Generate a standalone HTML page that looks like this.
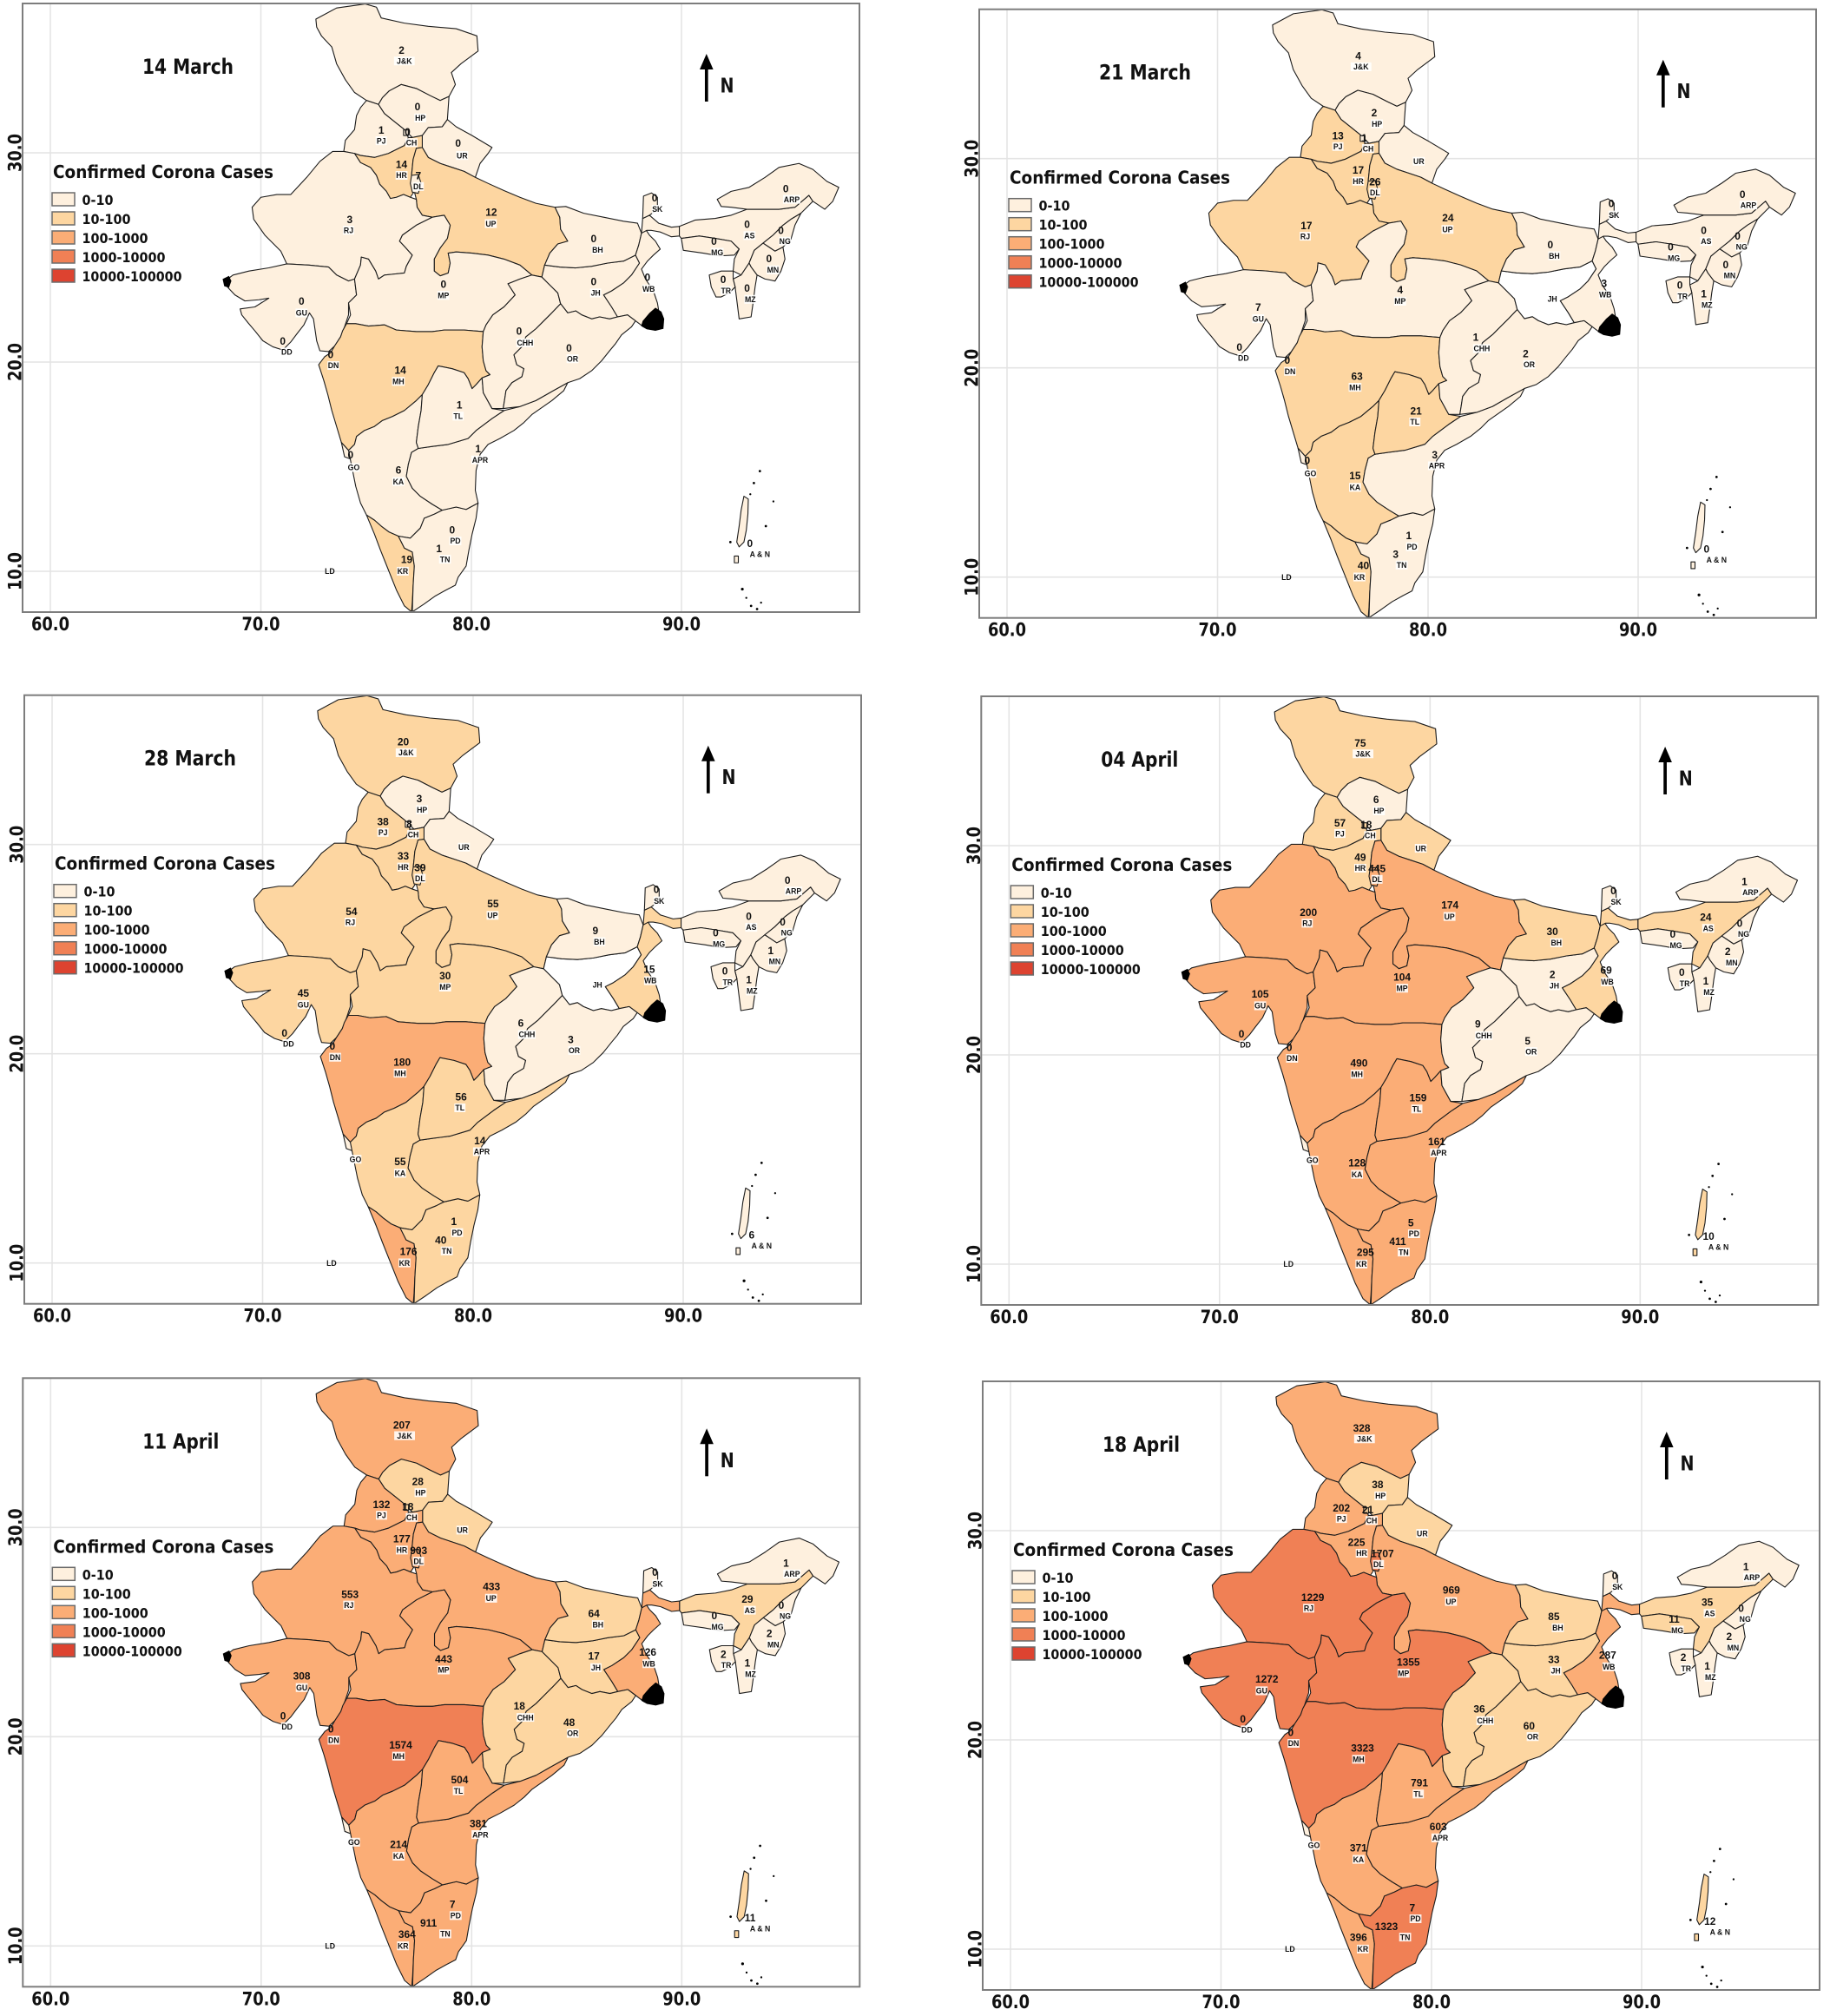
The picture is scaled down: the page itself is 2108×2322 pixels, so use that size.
<!DOCTYPE html>
<html><head><meta charset="utf-8"><style>
html,body{margin:0;padding:0;background:#fff}
svg{display:block}
.s{stroke:#1c1c1c;stroke-width:1.1;vector-effect:non-scaling-stroke;stroke-linejoin:round}
.c0{fill:#fef0de}.c1{fill:#fdd6a1}.c2{fill:#fbad76}.c3{fill:#f08055}.c4{fill:#dd4330}.cw{fill:#ffffff}
.ti,.lt,.ll,.nn,.ax{font-family:"DejaVu Sans","Liberation Sans",sans-serif;font-weight:bold;fill:#111}
.ti{font-size:24px}.lt{font-size:20px}.ll{font-size:16px}.nn{font-size:23px}.ax{font-size:21px;text-anchor:middle}
.m text{font-family:"Liberation Sans",sans-serif;font-weight:bold;text-anchor:middle;fill:#111}
.n text{font-size:26px}.a text{font-size:19px}
</style></head><body>
<svg width="2108" height="2322" viewBox="0 0 2108 2322" xmlns="http://www.w3.org/2000/svg">
<rect width="2108" height="2322" fill="#fff"/>
<defs>
<path id="grid" d="M58,5V704M300.5,5V704M543,5V704M785,5V704M27,176H989M27,417H989M27,658H989" stroke="#e4e4e4" stroke-width="1.6" fill="none"/>
<g id="deco">
<rect x="26" y="4" width="964" height="701" fill="none" stroke="#7d7d7d" stroke-width="2"/>
<rect x="60" y="222" width="26" height="15" class="c0" stroke="#6b6b6b" stroke-width="1.5"/>
<rect x="60" y="244" width="26" height="15" class="c1" stroke="#6b6b6b" stroke-width="1.5"/>
<rect x="60" y="266" width="26" height="15" class="c2" stroke="#6b6b6b" stroke-width="1.5"/>
<rect x="60" y="288" width="26" height="15" class="c3" stroke="#6b6b6b" stroke-width="1.5"/>
<rect x="60" y="310" width="26" height="15" class="c4" stroke="#6b6b6b" stroke-width="1.5"/>
<path d="M813.8,76V117" stroke="#000" stroke-width="3.7"/>
<path d="M806,80L813.8,62L821.6,80Z" fill="#000"/>
</g>
<path id="JK" class="s" d="M248,48L300,20L372,10L400,18L412,45L470,58L530,66L600,72L652,90L655,128L612,160L588,182L598,212L582,242L560,252L535,240L500,222L462,212L432,228L415,245L405,262L375,252L345,232L322,200L300,160L288,118L262,90L250,68Z"/>
<path id="HP" class="s" d="M405,262L415,245L432,228L462,212L500,222L535,240L560,252L582,242L578,300L565,318L530,320L515,340L490,345L470,325L445,305L420,285Z"/>
<path id="PJ" class="s" d="M375,252L405,262L420,285L445,305L470,325L480,345L470,365L430,385L395,395L360,390L345,385L318,380L322,352L345,325L350,290L360,270Z"/>
<path id="CH" class="s" d="M468,326L480,326L480,340L468,340Z"/>
<path id="UR" class="s" d="M515,340L530,320L565,318L578,300L600,318L640,340L690,370L680,385L660,410L648,445L620,430L590,420L560,410L530,395L515,370Z"/>
<path id="HR" class="s" d="M345,385L360,390L395,395L430,385L470,365L480,345L490,345L515,340L515,370L500,372L492,400L488,440L495,480L485,495L468,488L450,495L435,498L425,480L408,462L400,440L385,420L360,408Z"/>
<path id="UP" class="s" d="M515,370L530,395L560,410L590,420L620,430L648,445L680,460L720,478L760,495L800,510L848,520L860,545L862,575L880,605L855,612L835,635L822,665L815,695L790,690L760,665L720,650L680,640L640,635L600,632L580,635L585,660L580,685L560,692L545,680L545,650L560,622L578,598L585,565L570,540L540,545L515,540L502,520L500,500L495,480L488,440L492,400L500,372Z"/>
<path id="RJ" class="s" d="M290,380L318,380L345,385L360,408L385,420L400,440L408,462L425,480L435,498L450,495L468,488L485,495L500,500L502,520L515,540L540,545L500,565L465,590L458,605L472,620L490,640L475,668L470,685L440,688L420,690L405,700L398,680L380,650L362,645L360,665L345,700L330,705L300,690L280,670L230,665L175,662L160,630L120,590L92,550L88,520L110,495L150,488L185,488L225,445L258,405Z"/>
<path id="GU" class="s" d="M20,705L40,690L80,680L130,672L175,662L230,665L280,670L300,690L330,705L345,700L350,740L330,760L330,790L320,820L310,845L295,868L280,882L258,880L250,855L242,800L232,785L218,815L200,838L185,858L165,878L140,870L115,855L95,830L78,810L62,790L58,775L95,770L130,748L105,752L70,755L45,740L28,722Z"/>
<path id="MP" class="s" d="M345,700L360,665L362,645L380,650L398,680L405,700L420,690L440,688L470,685L475,668L490,640L472,620L458,605L465,590L500,565L540,545L570,540L585,565L578,598L560,622L545,650L545,680L560,692L580,685L585,660L580,635L600,632L640,635L680,640L720,650L760,665L790,690L760,700L730,712L748,740L720,770L692,790L675,815L668,832L620,828L570,828L540,832L500,832L450,828L420,815L380,818L348,812L325,812L335,790L330,760L350,740Z"/>
<path id="MH" class="s" d="M325,812L348,812L380,818L420,815L450,828L500,832L540,832L570,828L620,828L668,832L665,870L668,905L675,930L685,940L665,948L650,965L640,975L630,950L620,935L590,925L555,918L545,935L530,965L515,990L500,1005L470,1030L440,1045L415,1055L395,1070L370,1080L350,1095L345,1115L330,1130L312,1110L300,1070L288,1030L278,990L268,955L255,915L270,895L285,885L295,868L310,845L315,830Z"/>
<path id="GO" class="s" d="M312,1110L330,1130L342,1142L336,1152L320,1146Z"/>
<path id="KA" class="s" d="M330,1130L345,1115L350,1095L370,1080L395,1070L415,1055L440,1045L470,1030L500,1005L515,990L512,1030L505,1070L500,1110L505,1125L488,1135L480,1165L475,1195L490,1225L510,1245L540,1265L565,1280L545,1290L520,1300L510,1325L485,1350L455,1345L432,1335L412,1320L395,1305L375,1292L360,1262L348,1220L340,1180Z"/>
<path id="KR" class="s" d="M375,1292L395,1305L412,1320L432,1335L455,1345L470,1375L490,1385L495,1420L492,1470L490,1510L488,1535L470,1520L450,1480L430,1430L410,1380L395,1340Z"/>
<path id="TN" class="s" d="M455,1345L485,1350L510,1325L520,1300L545,1290L565,1280L600,1272L625,1278L655,1262L650,1300L640,1340L632,1380L625,1420L605,1448L598,1468L575,1480L548,1495L520,1515L490,1535L492,1470L495,1420L490,1385L470,1375Z"/>
<path id="APR" class="s" d="M505,1125L540,1120L580,1115L630,1100L650,1080L690,1050L720,1030L760,1020L800,1005L835,985L880,960L870,980L840,1005L790,1040L770,1060L745,1080L710,1100L680,1115L660,1140L650,1180L648,1230L655,1262L625,1278L600,1272L565,1280L540,1265L510,1245L490,1225L475,1195L480,1165L488,1135Z"/>
<path id="TL" class="s" d="M555,918L590,925L620,935L630,950L640,975L650,965L665,948L668,985L690,1025L720,1030L690,1050L650,1080L630,1100L580,1115L540,1120L505,1125L500,1110L505,1070L512,1030L515,990L530,965L545,935Z"/>
<path id="CHH" class="s" d="M668,832L675,815L692,790L720,770L748,740L730,712L760,700L790,690L815,695L830,710L855,735L862,762L840,785L820,805L800,825L775,845L765,870L745,890L752,915L770,925L765,945L740,960L725,980L722,1000L718,1025L690,1025L668,985L665,948L685,940L675,930L668,905L665,870Z"/>
<path id="JH" class="s" d="M815,695L822,665L860,670L900,672L940,668L980,660L1020,655L1050,640L1060,660L1040,690L1020,710L990,730L970,740L990,770L1005,795L985,800L960,795L940,800L915,790L900,780L880,785L862,762L855,735L830,710Z"/>
<path id="BH" class="s" d="M848,520L875,518L920,535L970,545L1020,555L1055,560L1065,585L1058,615L1050,640L1020,655L980,660L940,668L900,672L860,670L822,665L835,635L855,612L880,605L862,575L860,545Z"/>
<path id="WB" class="s" d="M1050,640L1058,615L1065,585L1075,575L1085,590L1100,605L1112,625L1095,640L1080,655L1065,675L1075,700L1095,730L1105,760L1110,790L1115,815L1095,825L1070,820L1050,805L1030,790L1005,795L990,770L970,740L990,730L1020,710L1040,690L1060,660Z"/>
<path id="WBN" class="s" d="M1065,585L1068,548L1085,540L1108,560L1140,570L1160,568L1160,592L1140,594L1112,582L1090,578L1078,578Z"/>
<path id="SK" class="s" d="M1068,548L1070,492L1090,484L1105,495L1105,525L1085,540Z"/>
<path id="OR" class="s" d="M862,762L880,785L900,780L915,790L940,800L960,795L985,800L1005,795L1030,790L1050,805L1040,820L1015,840L1000,862L985,880L965,905L940,930L910,950L880,960L835,985L800,1005L760,1020L718,1025L722,1000L725,980L740,960L765,945L770,925L752,915L745,890L765,870L775,845L800,825L820,805L840,785Z"/>
<path id="AS" class="s" d="M1160,568L1200,552L1250,548L1290,540L1330,525L1370,525L1410,525L1450,520L1485,490L1495,505L1465,535L1440,550L1420,565L1395,590L1370,610L1348,628L1335,660L1315,690L1295,680L1298,650L1310,625L1290,605L1250,598L1210,592L1165,598L1160,592Z"/>
<path id="MG" class="s" d="M1165,598L1210,592L1250,598L1290,605L1310,625L1298,640L1260,642L1220,635L1170,628Z"/>
<path id="ARP" class="s" d="M1255,500L1290,480L1335,470L1375,445L1410,420L1460,410L1495,425L1530,455L1560,470L1545,505L1525,525L1510,515L1495,505L1485,490L1450,520L1410,525L1370,525L1330,525L1290,520L1265,518Z"/>
<path id="NG" class="s" d="M1440,550L1465,535L1450,565L1440,600L1420,620L1400,630L1385,620L1370,610L1395,590L1420,565Z"/>
<path id="MN" class="s" d="M1348,628L1370,610L1385,620L1400,630L1420,620L1425,650L1415,680L1400,705L1375,700L1355,690L1340,670L1335,660Z"/>
<path id="MZ" class="s" d="M1315,690L1335,660L1340,670L1355,690L1350,720L1345,760L1340,795L1310,800L1305,760L1300,720L1295,700Z"/>
<path id="TR" class="s" d="M1235,690L1265,680L1295,680L1295,700L1300,720L1285,735L1265,745L1252,745L1240,720Z"/>
<path id="AN" class="s" d="M1322,1245L1333,1252L1332,1290L1328,1330L1322,1360L1310,1372L1304,1360L1310,1320L1315,1280ZM1298,1395L1308,1395L1308,1412L1298,1412Z"/>
<path id="DL" class="s" d="M488,440L505,438L512,460L505,485L490,482L485,460Z"/>
<g id="blk" fill="#000">
<path d="M14,700L30,692L36,705L30,722L18,718Z"/>
<path d="M1068,805L1085,785L1100,772L1115,782L1122,800L1120,825L1100,830L1078,826L1064,818Z"/>
<circle cx="1362" cy="1182" r="3"/><circle cx="1347" cy="1212" r="3"/><circle cx="1396" cy="1258" r="2.5"/><circle cx="1377" cy="1320" r="3"/><circle cx="1288" cy="1360" r="3"/><circle cx="1318" cy="1478" r="3.5"/><circle cx="1328" cy="1500" r="2.5"/><circle cx="1340" cy="1520" r="3"/><circle cx="1355" cy="1528" r="3"/><circle cx="1365" cy="1512" r="2.5"/><circle cx="1338" cy="1240" r="2.5"/>
</g>
<path id="boxes" fill="#fff" fill-opacity="0.88" d="M444,142h52v22h-52zM495,285h30v22h-30zM398,342h28v22h-28zM473,347h30v22h-30zM600,379h30v22h-30zM448,429h30v22h-30zM491,457h28v22h-28zM316,567h28v22h-28zM672,550h30v22h-30zM1091,514h28v22h-28zM1420,489h44v22h-44zM1321,580h30v22h-30zM1410,594h30v22h-30zM1239,622h32v22h-32zM1379,666h32v22h-32zM940,616h30v22h-30zM553,730h30v22h-30zM936,724h28v22h-28zM1067,714h32v22h-32zM1263,718h28v22h-28zM1323,740h30v22h-30zM197,774h30v22h-30zM160,872h30v22h-30zM277,906h30v22h-30zM751,849h44v22h-44zM877,889h30v22h-30zM439,946h32v22h-32zM591,1033h28v22h-28zM638,1143h44v22h-44zM328,1162h30v22h-30zM440,1197h30v22h-30zM583,1346h30v22h-30zM557,1392h30v22h-30zM451,1422h30v22h-30zM1332,1379h60v22h-60z"/>
</defs>

<!-- PANEL 1 -->
<g transform="translate(0,0)">
<use href="#grid"/>
<g class="m" transform="translate(250,0) scale(0.4591)">
<use href="#JK" class="c0"/><use href="#HP" class="c0"/><use href="#PJ" class="c0"/><use href="#UR" class="c0"/><use href="#HR" class="c1"/><use href="#UP" class="c1"/><use href="#RJ" class="c0"/><use href="#GU" class="c0"/><use href="#MP" class="c0"/><use href="#MH" class="c1"/><use href="#GO" class="c0"/><use href="#KA" class="c0"/><use href="#KR" class="c1"/><use href="#TN" class="c0"/><use href="#APR" class="c0"/><use href="#TL" class="c0"/><use href="#CHH" class="c0"/><use href="#JH" class="c0"/><use href="#BH" class="c0"/><use href="#WB" class="c0"/><use href="#WBN" class="c0"/><use href="#SK" class="c0"/><use href="#OR" class="c0"/><use href="#AS" class="c0"/><use href="#MG" class="c0"/><use href="#ARP" class="c0"/><use href="#NG" class="c0"/><use href="#MN" class="c0"/><use href="#MZ" class="c0"/><use href="#TR" class="c0"/><use href="#AN" class="c0"/><use href="#DL" class="c0"/><use href="#CH" class="c0"/>
<use href="#blk"/><use href="#boxes"/>
<g class="a"><text x="470" y="160">J&amp;K</text><text x="510" y="303">HP</text><text x="412" y="360">PJ</text><text x="488" y="365">CH</text><text x="615" y="397">UR</text><text x="463" y="447">HR</text><text x="505" y="475">DL</text><text x="330" y="585">RJ</text><text x="687" y="568">UP</text><text x="1105" y="532">SK</text><text x="1442" y="507">ARP</text><text x="1336" y="598">AS</text><text x="1425" y="612">NG</text><text x="1255" y="640">MG</text><text x="1395" y="684">MN</text><text x="955" y="634">BH</text><text x="568" y="748">MP</text><text x="950" y="742">JH</text><text x="1083" y="732">WB</text><text x="1277" y="736">TR</text><text x="1338" y="758">MZ</text><text x="212" y="792">GU</text><text x="175" y="890">DD</text><text x="292" y="924">DN</text><text x="773" y="867">CHH</text><text x="892" y="907">OR</text><text x="455" y="964">MH</text><text x="605" y="1051">TL</text><text x="660" y="1161">APR</text><text x="343" y="1180">GO</text><text x="455" y="1215">KA</text><text x="598" y="1364">PD</text><text x="572" y="1410">TN</text><text x="466" y="1440">KR</text><text x="283" y="1440">LD</text><text x="1362" y="1397">A &amp; N</text></g>
<g class="n"><text x="463" y="135">2</text><text x="503" y="277">0</text><text x="412" y="335">1</text><text x="478" y="340">0</text><text x="605" y="368">0</text><text x="463" y="421">14</text><text x="505" y="450">7</text><text x="333" y="560">3</text><text x="688" y="541">12</text><text x="1098" y="505">0</text><text x="1427" y="482">0</text><text x="1330" y="572">0</text><text x="1415" y="587">0</text><text x="1247" y="614">0</text><text x="1385" y="658">0</text><text x="945" y="608">0</text><text x="568" y="722">0</text><text x="945" y="715">0</text><text x="1080" y="705">0</text><text x="1270" y="710">0</text><text x="1330" y="732">0</text><text x="212" y="765">0</text><text x="165" y="865">0</text><text x="285" y="898">0</text><text x="758" y="840">0</text><text x="883" y="882">0</text><text x="460" y="938">14</text><text x="608" y="1025">1</text><text x="655" y="1135">1</text><text x="335" y="1150">0</text><text x="455" y="1188">6</text><text x="590" y="1338">0</text><text x="557" y="1385">1</text><text x="476" y="1413">19</text><text x="1337" y="1372">0</text></g>
</g>
<use href="#deco"/>
<text class="ti" x="164" y="85" textLength="105" lengthAdjust="spacingAndGlyphs">14 March</text>
<text class="lt" x="61" y="205" textLength="254" lengthAdjust="spacingAndGlyphs">Confirmed Corona Cases</text>
<text class="ll" x="94.5" y="236" textLength="36" lengthAdjust="spacingAndGlyphs">0-10</text>
<text class="ll" x="94.5" y="258" textLength="56" lengthAdjust="spacingAndGlyphs">10-100</text>
<text class="ll" x="94.5" y="280" textLength="76" lengthAdjust="spacingAndGlyphs">100-1000</text>
<text class="ll" x="94.5" y="302" textLength="96" lengthAdjust="spacingAndGlyphs">1000-10000</text>
<text class="ll" x="94.5" y="324" textLength="115" lengthAdjust="spacingAndGlyphs">10000-100000</text>
<text class="nn" x="829.5" y="106.5" textLength="16" lengthAdjust="spacingAndGlyphs">N</text>
<text class="ax" x="58" y="726" textLength="44" lengthAdjust="spacingAndGlyphs">60.0</text>
<text class="ax" x="300.5" y="726" textLength="44" lengthAdjust="spacingAndGlyphs">70.0</text>
<text class="ax" x="543" y="726" textLength="44" lengthAdjust="spacingAndGlyphs">80.0</text>
<text class="ax" x="785" y="726" textLength="44" lengthAdjust="spacingAndGlyphs">90.0</text>
<text class="ax" transform="translate(24.5,176) rotate(-90)" textLength="44" lengthAdjust="spacingAndGlyphs">30.0</text>
<text class="ax" transform="translate(24.5,417) rotate(-90)" textLength="44" lengthAdjust="spacingAndGlyphs">20.0</text>
<text class="ax" transform="translate(24.5,658) rotate(-90)" textLength="44" lengthAdjust="spacingAndGlyphs">10.0</text>
</g>

<!-- PANEL 2 -->
<g transform="translate(1102,6.7)">
<use href="#grid"/>
<g class="m" transform="translate(250,0) scale(0.4591)">
<use href="#JK" class="c0"/><use href="#HP" class="c0"/><use href="#PJ" class="c1"/><use href="#UR" class="c0"/><use href="#HR" class="c1"/><use href="#UP" class="c1"/><use href="#RJ" class="c1"/><use href="#GU" class="c0"/><use href="#MP" class="c0"/><use href="#MH" class="c1"/><use href="#GO" class="c0"/><use href="#KA" class="c1"/><use href="#KR" class="c1"/><use href="#TN" class="c0"/><use href="#APR" class="c0"/><use href="#TL" class="c1"/><use href="#CHH" class="c0"/><use href="#JH" class="cw"/><use href="#BH" class="c0"/><use href="#WB" class="c0"/><use href="#WBN" class="c0"/><use href="#SK" class="c0"/><use href="#OR" class="c0"/><use href="#AS" class="c0"/><use href="#MG" class="c0"/><use href="#ARP" class="c0"/><use href="#NG" class="c0"/><use href="#MN" class="c0"/><use href="#MZ" class="c0"/><use href="#TR" class="c0"/><use href="#AN" class="c0"/><use href="#DL" class="c1"/><use href="#CH" class="c0"/>
<use href="#blk"/><use href="#boxes"/>
<g class="a"><text x="470" y="160">J&amp;K</text><text x="510" y="303">HP</text><text x="412" y="360">PJ</text><text x="488" y="365">CH</text><text x="615" y="397">UR</text><text x="463" y="447">HR</text><text x="505" y="475">DL</text><text x="330" y="585">RJ</text><text x="687" y="568">UP</text><text x="1105" y="532">SK</text><text x="1442" y="507">ARP</text><text x="1336" y="598">AS</text><text x="1425" y="612">NG</text><text x="1255" y="640">MG</text><text x="1395" y="684">MN</text><text x="955" y="634">BH</text><text x="568" y="748">MP</text><text x="950" y="742">JH</text><text x="1083" y="732">WB</text><text x="1277" y="736">TR</text><text x="1338" y="758">MZ</text><text x="212" y="792">GU</text><text x="175" y="890">DD</text><text x="292" y="924">DN</text><text x="773" y="867">CHH</text><text x="892" y="907">OR</text><text x="455" y="964">MH</text><text x="605" y="1051">TL</text><text x="660" y="1161">APR</text><text x="343" y="1180">GO</text><text x="455" y="1215">KA</text><text x="598" y="1364">PD</text><text x="572" y="1410">TN</text><text x="466" y="1440">KR</text><text x="283" y="1440">LD</text><text x="1362" y="1397">A &amp; N</text></g>
<g class="n"><text x="463" y="135">4</text><text x="503" y="277">2</text><text x="412" y="335">13</text><text x="478" y="340">1</text><text x="463" y="421">17</text><text x="505" y="450">26</text><text x="333" y="560">17</text><text x="688" y="541">24</text><text x="1098" y="505">0</text><text x="1427" y="482">0</text><text x="1330" y="572">0</text><text x="1415" y="587">0</text><text x="1247" y="614">0</text><text x="1385" y="658">0</text><text x="945" y="608">0</text><text x="568" y="722">4</text><text x="1080" y="705">3</text><text x="1270" y="710">0</text><text x="1330" y="732">1</text><text x="212" y="765">7</text><text x="165" y="865">0</text><text x="285" y="898">0</text><text x="758" y="840">1</text><text x="883" y="882">2</text><text x="460" y="938">63</text><text x="608" y="1025">21</text><text x="655" y="1135">3</text><text x="335" y="1150">0</text><text x="455" y="1188">15</text><text x="590" y="1338">1</text><text x="557" y="1385">3</text><text x="476" y="1413">40</text><text x="1337" y="1372">0</text></g>
</g>
<use href="#deco"/>
<text class="ti" x="164" y="85" textLength="106" lengthAdjust="spacingAndGlyphs">21 March</text>
<text class="lt" x="61" y="205" textLength="254" lengthAdjust="spacingAndGlyphs">Confirmed Corona Cases</text>
<text class="ll" x="94.5" y="236" textLength="36" lengthAdjust="spacingAndGlyphs">0-10</text>
<text class="ll" x="94.5" y="258" textLength="56" lengthAdjust="spacingAndGlyphs">10-100</text>
<text class="ll" x="94.5" y="280" textLength="76" lengthAdjust="spacingAndGlyphs">100-1000</text>
<text class="ll" x="94.5" y="302" textLength="96" lengthAdjust="spacingAndGlyphs">1000-10000</text>
<text class="ll" x="94.5" y="324" textLength="115" lengthAdjust="spacingAndGlyphs">10000-100000</text>
<text class="nn" x="829.5" y="106.5" textLength="16" lengthAdjust="spacingAndGlyphs">N</text>
<text class="ax" x="58" y="726" textLength="44" lengthAdjust="spacingAndGlyphs">60.0</text>
<text class="ax" x="300.5" y="726" textLength="44" lengthAdjust="spacingAndGlyphs">70.0</text>
<text class="ax" x="543" y="726" textLength="44" lengthAdjust="spacingAndGlyphs">80.0</text>
<text class="ax" x="785" y="726" textLength="44" lengthAdjust="spacingAndGlyphs">90.0</text>
<text class="ax" transform="translate(24.5,176) rotate(-90)" textLength="44" lengthAdjust="spacingAndGlyphs">30.0</text>
<text class="ax" transform="translate(24.5,417) rotate(-90)" textLength="44" lengthAdjust="spacingAndGlyphs">20.0</text>
<text class="ax" transform="translate(24.5,658) rotate(-90)" textLength="44" lengthAdjust="spacingAndGlyphs">10.0</text>
</g>

<!-- PANEL 3 -->
<g transform="translate(2,796.7)">
<use href="#grid"/>
<g class="m" transform="translate(250,0) scale(0.4591)">
<use href="#JK" class="c1"/><use href="#HP" class="c0"/><use href="#PJ" class="c1"/><use href="#UR" class="c0"/><use href="#HR" class="c1"/><use href="#UP" class="c1"/><use href="#RJ" class="c1"/><use href="#GU" class="c1"/><use href="#MP" class="c1"/><use href="#MH" class="c2"/><use href="#GO" class="c0"/><use href="#KA" class="c1"/><use href="#KR" class="c2"/><use href="#TN" class="c1"/><use href="#APR" class="c1"/><use href="#TL" class="c1"/><use href="#CHH" class="c0"/><use href="#JH" class="cw"/><use href="#BH" class="c0"/><use href="#WB" class="c1"/><use href="#WBN" class="c1"/><use href="#SK" class="c0"/><use href="#OR" class="c0"/><use href="#AS" class="c0"/><use href="#MG" class="c0"/><use href="#ARP" class="c0"/><use href="#NG" class="c0"/><use href="#MN" class="c0"/><use href="#MZ" class="c0"/><use href="#TR" class="c0"/><use href="#AN" class="c0"/><use href="#DL" class="c1"/><use href="#CH" class="c0"/>
<use href="#blk"/><use href="#boxes"/>
<g class="a"><text x="470" y="160">J&amp;K</text><text x="510" y="303">HP</text><text x="412" y="360">PJ</text><text x="488" y="365">CH</text><text x="615" y="397">UR</text><text x="463" y="447">HR</text><text x="505" y="475">DL</text><text x="330" y="585">RJ</text><text x="687" y="568">UP</text><text x="1105" y="532">SK</text><text x="1442" y="507">ARP</text><text x="1336" y="598">AS</text><text x="1425" y="612">NG</text><text x="1255" y="640">MG</text><text x="1395" y="684">MN</text><text x="955" y="634">BH</text><text x="568" y="748">MP</text><text x="950" y="742">JH</text><text x="1083" y="732">WB</text><text x="1277" y="736">TR</text><text x="1338" y="758">MZ</text><text x="212" y="792">GU</text><text x="175" y="890">DD</text><text x="292" y="924">DN</text><text x="773" y="867">CHH</text><text x="892" y="907">OR</text><text x="455" y="964">MH</text><text x="605" y="1051">TL</text><text x="660" y="1161">APR</text><text x="343" y="1180">GO</text><text x="455" y="1215">KA</text><text x="598" y="1364">PD</text><text x="572" y="1410">TN</text><text x="466" y="1440">KR</text><text x="283" y="1440">LD</text><text x="1362" y="1397">A &amp; N</text></g>
<g class="n"><text x="463" y="135">20</text><text x="503" y="277">3</text><text x="412" y="335">38</text><text x="478" y="340">8</text><text x="463" y="421">33</text><text x="505" y="450">39</text><text x="333" y="560">54</text><text x="688" y="541">55</text><text x="1098" y="505">0</text><text x="1427" y="482">0</text><text x="1330" y="572">0</text><text x="1415" y="587">0</text><text x="1247" y="614">0</text><text x="1385" y="658">1</text><text x="945" y="608">9</text><text x="568" y="722">30</text><text x="1080" y="705">15</text><text x="1270" y="710">0</text><text x="1330" y="732">1</text><text x="212" y="765">45</text><text x="165" y="865">0</text><text x="285" y="898">0</text><text x="758" y="840">6</text><text x="883" y="882">3</text><text x="460" y="938">180</text><text x="608" y="1025">56</text><text x="655" y="1135">14</text><text x="455" y="1188">55</text><text x="590" y="1338">1</text><text x="557" y="1385">40</text><text x="476" y="1413">176</text><text x="1337" y="1372">6</text></g>
</g>
<use href="#deco"/>
<text class="ti" x="164" y="85" textLength="106" lengthAdjust="spacingAndGlyphs">28 March</text>
<text class="lt" x="61" y="205" textLength="254" lengthAdjust="spacingAndGlyphs">Confirmed Corona Cases</text>
<text class="ll" x="94.5" y="236" textLength="36" lengthAdjust="spacingAndGlyphs">0-10</text>
<text class="ll" x="94.5" y="258" textLength="56" lengthAdjust="spacingAndGlyphs">10-100</text>
<text class="ll" x="94.5" y="280" textLength="76" lengthAdjust="spacingAndGlyphs">100-1000</text>
<text class="ll" x="94.5" y="302" textLength="96" lengthAdjust="spacingAndGlyphs">1000-10000</text>
<text class="ll" x="94.5" y="324" textLength="115" lengthAdjust="spacingAndGlyphs">10000-100000</text>
<text class="nn" x="829.5" y="106.5" textLength="16" lengthAdjust="spacingAndGlyphs">N</text>
<text class="ax" x="58" y="726" textLength="44" lengthAdjust="spacingAndGlyphs">60.0</text>
<text class="ax" x="300.5" y="726" textLength="44" lengthAdjust="spacingAndGlyphs">70.0</text>
<text class="ax" x="543" y="726" textLength="44" lengthAdjust="spacingAndGlyphs">80.0</text>
<text class="ax" x="785" y="726" textLength="44" lengthAdjust="spacingAndGlyphs">90.0</text>
<text class="ax" transform="translate(24.5,176) rotate(-90)" textLength="44" lengthAdjust="spacingAndGlyphs">30.0</text>
<text class="ax" transform="translate(24.5,417) rotate(-90)" textLength="44" lengthAdjust="spacingAndGlyphs">20.0</text>
<text class="ax" transform="translate(24.5,658) rotate(-90)" textLength="44" lengthAdjust="spacingAndGlyphs">10.0</text>
</g>

<!-- PANEL 4 -->
<g transform="translate(1104.3,798)">
<use href="#grid"/>
<g class="m" transform="translate(250,0) scale(0.4591)">
<use href="#JK" class="c1"/><use href="#HP" class="c0"/><use href="#PJ" class="c1"/><use href="#UR" class="c1"/><use href="#HR" class="c1"/><use href="#UP" class="c2"/><use href="#RJ" class="c2"/><use href="#GU" class="c2"/><use href="#MP" class="c2"/><use href="#MH" class="c2"/><use href="#GO" class="c0"/><use href="#KA" class="c2"/><use href="#KR" class="c2"/><use href="#TN" class="c2"/><use href="#APR" class="c2"/><use href="#TL" class="c2"/><use href="#CHH" class="c0"/><use href="#JH" class="c0"/><use href="#BH" class="c1"/><use href="#WB" class="c1"/><use href="#WBN" class="c1"/><use href="#SK" class="c0"/><use href="#OR" class="c0"/><use href="#AS" class="c1"/><use href="#MG" class="c0"/><use href="#ARP" class="c0"/><use href="#NG" class="c0"/><use href="#MN" class="c0"/><use href="#MZ" class="c0"/><use href="#TR" class="c0"/><use href="#AN" class="c1"/><use href="#DL" class="c2"/><use href="#CH" class="c1"/>
<use href="#blk"/><use href="#boxes"/>
<g class="a"><text x="470" y="160">J&amp;K</text><text x="510" y="303">HP</text><text x="412" y="360">PJ</text><text x="488" y="365">CH</text><text x="615" y="397">UR</text><text x="463" y="447">HR</text><text x="505" y="475">DL</text><text x="330" y="585">RJ</text><text x="687" y="568">UP</text><text x="1105" y="532">SK</text><text x="1442" y="507">ARP</text><text x="1336" y="598">AS</text><text x="1425" y="612">NG</text><text x="1255" y="640">MG</text><text x="1395" y="684">MN</text><text x="955" y="634">BH</text><text x="568" y="748">MP</text><text x="950" y="742">JH</text><text x="1083" y="732">WB</text><text x="1277" y="736">TR</text><text x="1338" y="758">MZ</text><text x="212" y="792">GU</text><text x="175" y="890">DD</text><text x="292" y="924">DN</text><text x="773" y="867">CHH</text><text x="892" y="907">OR</text><text x="455" y="964">MH</text><text x="605" y="1051">TL</text><text x="660" y="1161">APR</text><text x="343" y="1180">GO</text><text x="455" y="1215">KA</text><text x="598" y="1364">PD</text><text x="572" y="1410">TN</text><text x="466" y="1440">KR</text><text x="283" y="1440">LD</text><text x="1362" y="1397">A &amp; N</text></g>
<g class="n"><text x="463" y="135">75</text><text x="503" y="277">6</text><text x="412" y="335">57</text><text x="478" y="340">18</text><text x="463" y="421">49</text><text x="505" y="450">445</text><text x="333" y="560">200</text><text x="688" y="541">174</text><text x="1098" y="505">0</text><text x="1427" y="482">1</text><text x="1330" y="572">24</text><text x="1415" y="587">0</text><text x="1247" y="614">0</text><text x="1385" y="658">2</text><text x="945" y="608">30</text><text x="568" y="722">104</text><text x="945" y="715">2</text><text x="1080" y="705">69</text><text x="1270" y="710">0</text><text x="1330" y="732">1</text><text x="212" y="765">105</text><text x="165" y="865">0</text><text x="285" y="898">0</text><text x="758" y="840">9</text><text x="883" y="882">5</text><text x="460" y="938">490</text><text x="608" y="1025">159</text><text x="655" y="1135">161</text><text x="455" y="1188">128</text><text x="590" y="1338">5</text><text x="557" y="1385">411</text><text x="476" y="1413">295</text><text x="1337" y="1372">10</text></g>
</g>
<use href="#deco"/>
<text class="ti" x="164" y="85" textLength="89" lengthAdjust="spacingAndGlyphs">04 April</text>
<text class="lt" x="61" y="205" textLength="254" lengthAdjust="spacingAndGlyphs">Confirmed Corona Cases</text>
<text class="ll" x="94.5" y="236" textLength="36" lengthAdjust="spacingAndGlyphs">0-10</text>
<text class="ll" x="94.5" y="258" textLength="56" lengthAdjust="spacingAndGlyphs">10-100</text>
<text class="ll" x="94.5" y="280" textLength="76" lengthAdjust="spacingAndGlyphs">100-1000</text>
<text class="ll" x="94.5" y="302" textLength="96" lengthAdjust="spacingAndGlyphs">1000-10000</text>
<text class="ll" x="94.5" y="324" textLength="115" lengthAdjust="spacingAndGlyphs">10000-100000</text>
<text class="nn" x="829.5" y="106.5" textLength="16" lengthAdjust="spacingAndGlyphs">N</text>
<text class="ax" x="58" y="726" textLength="44" lengthAdjust="spacingAndGlyphs">60.0</text>
<text class="ax" x="300.5" y="726" textLength="44" lengthAdjust="spacingAndGlyphs">70.0</text>
<text class="ax" x="543" y="726" textLength="44" lengthAdjust="spacingAndGlyphs">80.0</text>
<text class="ax" x="785" y="726" textLength="44" lengthAdjust="spacingAndGlyphs">90.0</text>
<text class="ax" transform="translate(24.5,176) rotate(-90)" textLength="44" lengthAdjust="spacingAndGlyphs">30.0</text>
<text class="ax" transform="translate(24.5,417) rotate(-90)" textLength="44" lengthAdjust="spacingAndGlyphs">20.0</text>
<text class="ax" transform="translate(24.5,658) rotate(-90)" textLength="44" lengthAdjust="spacingAndGlyphs">10.0</text>
</g>

<!-- PANEL 5 -->
<g transform="translate(0.3,1583.3)">
<use href="#grid"/>
<g class="m" transform="translate(250,0) scale(0.4591)">
<use href="#JK" class="c2"/><use href="#HP" class="c1"/><use href="#PJ" class="c2"/><use href="#UR" class="c1"/><use href="#HR" class="c2"/><use href="#UP" class="c2"/><use href="#RJ" class="c2"/><use href="#GU" class="c2"/><use href="#MP" class="c2"/><use href="#MH" class="c3"/><use href="#GO" class="c0"/><use href="#KA" class="c2"/><use href="#KR" class="c2"/><use href="#TN" class="c2"/><use href="#APR" class="c2"/><use href="#TL" class="c2"/><use href="#CHH" class="c1"/><use href="#JH" class="c1"/><use href="#BH" class="c1"/><use href="#WB" class="c2"/><use href="#WBN" class="c2"/><use href="#SK" class="c0"/><use href="#OR" class="c1"/><use href="#AS" class="c1"/><use href="#MG" class="c0"/><use href="#ARP" class="c0"/><use href="#NG" class="c0"/><use href="#MN" class="c0"/><use href="#MZ" class="c0"/><use href="#TR" class="c0"/><use href="#AN" class="c1"/><use href="#DL" class="c2"/><use href="#CH" class="c1"/>
<use href="#blk"/><use href="#boxes"/>
<g class="a"><text x="470" y="160">J&amp;K</text><text x="510" y="303">HP</text><text x="412" y="360">PJ</text><text x="488" y="365">CH</text><text x="615" y="397">UR</text><text x="463" y="447">HR</text><text x="505" y="475">DL</text><text x="330" y="585">RJ</text><text x="687" y="568">UP</text><text x="1105" y="532">SK</text><text x="1442" y="507">ARP</text><text x="1336" y="598">AS</text><text x="1425" y="612">NG</text><text x="1255" y="640">MG</text><text x="1395" y="684">MN</text><text x="955" y="634">BH</text><text x="568" y="748">MP</text><text x="950" y="742">JH</text><text x="1083" y="732">WB</text><text x="1277" y="736">TR</text><text x="1338" y="758">MZ</text><text x="212" y="792">GU</text><text x="175" y="890">DD</text><text x="292" y="924">DN</text><text x="773" y="867">CHH</text><text x="892" y="907">OR</text><text x="455" y="964">MH</text><text x="605" y="1051">TL</text><text x="660" y="1161">APR</text><text x="343" y="1180">GO</text><text x="455" y="1215">KA</text><text x="598" y="1364">PD</text><text x="572" y="1410">TN</text><text x="466" y="1440">KR</text><text x="283" y="1440">LD</text><text x="1362" y="1397">A &amp; N</text></g>
<g class="n"><text x="463" y="135">207</text><text x="503" y="277">28</text><text x="412" y="335">132</text><text x="478" y="340">18</text><text x="463" y="421">177</text><text x="505" y="450">903</text><text x="333" y="560">553</text><text x="688" y="541">433</text><text x="1098" y="505">0</text><text x="1427" y="482">1</text><text x="1330" y="572">29</text><text x="1415" y="587">0</text><text x="1247" y="614">0</text><text x="1385" y="658">2</text><text x="945" y="608">64</text><text x="568" y="722">443</text><text x="945" y="715">17</text><text x="1080" y="705">126</text><text x="1270" y="710">2</text><text x="1330" y="732">1</text><text x="212" y="765">308</text><text x="165" y="865">0</text><text x="285" y="898">0</text><text x="758" y="840">18</text><text x="883" y="882">48</text><text x="460" y="938">1574</text><text x="608" y="1025">504</text><text x="655" y="1135">381</text><text x="455" y="1188">214</text><text x="590" y="1338">7</text><text x="530" y="1385">911</text><text x="476" y="1413">364</text><text x="1337" y="1372">11</text></g>
</g>
<use href="#deco"/>
<text class="ti" x="164" y="85" textLength="88" lengthAdjust="spacingAndGlyphs">11 April</text>
<text class="lt" x="61" y="205" textLength="254" lengthAdjust="spacingAndGlyphs">Confirmed Corona Cases</text>
<text class="ll" x="94.5" y="236" textLength="36" lengthAdjust="spacingAndGlyphs">0-10</text>
<text class="ll" x="94.5" y="258" textLength="56" lengthAdjust="spacingAndGlyphs">10-100</text>
<text class="ll" x="94.5" y="280" textLength="76" lengthAdjust="spacingAndGlyphs">100-1000</text>
<text class="ll" x="94.5" y="302" textLength="96" lengthAdjust="spacingAndGlyphs">1000-10000</text>
<text class="ll" x="94.5" y="324" textLength="115" lengthAdjust="spacingAndGlyphs">10000-100000</text>
<text class="nn" x="829.5" y="106.5" textLength="16" lengthAdjust="spacingAndGlyphs">N</text>
<text class="ax" x="58" y="726" textLength="44" lengthAdjust="spacingAndGlyphs">60.0</text>
<text class="ax" x="300.5" y="726" textLength="44" lengthAdjust="spacingAndGlyphs">70.0</text>
<text class="ax" x="543" y="726" textLength="44" lengthAdjust="spacingAndGlyphs">80.0</text>
<text class="ax" x="785" y="726" textLength="44" lengthAdjust="spacingAndGlyphs">90.0</text>
<text class="ax" transform="translate(24.5,176) rotate(-90)" textLength="44" lengthAdjust="spacingAndGlyphs">30.0</text>
<text class="ax" transform="translate(24.5,417) rotate(-90)" textLength="44" lengthAdjust="spacingAndGlyphs">20.0</text>
<text class="ax" transform="translate(24.5,658) rotate(-90)" textLength="44" lengthAdjust="spacingAndGlyphs">10.0</text>
</g>

<!-- PANEL 6 -->
<g transform="translate(1106,1587)">
<use href="#grid"/>
<g class="m" transform="translate(250,0) scale(0.4591)">
<use href="#JK" class="c2"/><use href="#HP" class="c1"/><use href="#PJ" class="c2"/><use href="#UR" class="c1"/><use href="#HR" class="c2"/><use href="#UP" class="c2"/><use href="#RJ" class="c3"/><use href="#GU" class="c3"/><use href="#MP" class="c3"/><use href="#MH" class="c3"/><use href="#GO" class="c0"/><use href="#KA" class="c2"/><use href="#KR" class="c2"/><use href="#TN" class="c3"/><use href="#APR" class="c2"/><use href="#TL" class="c2"/><use href="#CHH" class="c1"/><use href="#JH" class="c1"/><use href="#BH" class="c1"/><use href="#WB" class="c2"/><use href="#WBN" class="c2"/><use href="#SK" class="c0"/><use href="#OR" class="c1"/><use href="#AS" class="c1"/><use href="#MG" class="c1"/><use href="#ARP" class="c0"/><use href="#NG" class="c0"/><use href="#MN" class="c0"/><use href="#MZ" class="c0"/><use href="#TR" class="c0"/><use href="#AN" class="c1"/><use href="#DL" class="c3"/><use href="#CH" class="c1"/>
<use href="#blk"/><use href="#boxes"/>
<g class="a"><text x="470" y="160">J&amp;K</text><text x="510" y="303">HP</text><text x="412" y="360">PJ</text><text x="488" y="365">CH</text><text x="615" y="397">UR</text><text x="463" y="447">HR</text><text x="505" y="475">DL</text><text x="330" y="585">RJ</text><text x="687" y="568">UP</text><text x="1105" y="532">SK</text><text x="1442" y="507">ARP</text><text x="1336" y="598">AS</text><text x="1425" y="612">NG</text><text x="1255" y="640">MG</text><text x="1395" y="684">MN</text><text x="955" y="634">BH</text><text x="568" y="748">MP</text><text x="950" y="742">JH</text><text x="1083" y="732">WB</text><text x="1277" y="736">TR</text><text x="1338" y="758">MZ</text><text x="212" y="792">GU</text><text x="175" y="890">DD</text><text x="292" y="924">DN</text><text x="773" y="867">CHH</text><text x="892" y="907">OR</text><text x="455" y="964">MH</text><text x="605" y="1051">TL</text><text x="660" y="1161">APR</text><text x="343" y="1180">GO</text><text x="455" y="1215">KA</text><text x="598" y="1364">PD</text><text x="572" y="1410">TN</text><text x="466" y="1440">KR</text><text x="283" y="1440">LD</text><text x="1362" y="1397">A &amp; N</text></g>
<g class="n"><text x="463" y="135">328</text><text x="503" y="277">38</text><text x="412" y="335">202</text><text x="478" y="340">21</text><text x="450" y="421">225</text><text x="515" y="450">1707</text><text x="340" y="560">1229</text><text x="688" y="541">969</text><text x="1098" y="505">0</text><text x="1427" y="482">1</text><text x="1330" y="572">35</text><text x="1415" y="587">0</text><text x="1247" y="614">11</text><text x="1385" y="658">2</text><text x="945" y="608">85</text><text x="580" y="722">1355</text><text x="945" y="715">33</text><text x="1080" y="705">287</text><text x="1270" y="710">2</text><text x="1330" y="732">1</text><text x="225" y="765">1272</text><text x="165" y="865">0</text><text x="285" y="898">0</text><text x="758" y="840">36</text><text x="883" y="882">60</text><text x="465" y="938">3323</text><text x="608" y="1025">791</text><text x="655" y="1135">603</text><text x="455" y="1188">371</text><text x="590" y="1338">7</text><text x="525" y="1385">1323</text><text x="455" y="1413">396</text><text x="1337" y="1372">12</text></g>
</g>
<use href="#deco"/>
<text class="ti" x="164" y="85" textLength="89" lengthAdjust="spacingAndGlyphs">18 April</text>
<text class="lt" x="61" y="205" textLength="254" lengthAdjust="spacingAndGlyphs">Confirmed Corona Cases</text>
<text class="ll" x="94.5" y="236" textLength="36" lengthAdjust="spacingAndGlyphs">0-10</text>
<text class="ll" x="94.5" y="258" textLength="56" lengthAdjust="spacingAndGlyphs">10-100</text>
<text class="ll" x="94.5" y="280" textLength="76" lengthAdjust="spacingAndGlyphs">100-1000</text>
<text class="ll" x="94.5" y="302" textLength="96" lengthAdjust="spacingAndGlyphs">1000-10000</text>
<text class="ll" x="94.5" y="324" textLength="115" lengthAdjust="spacingAndGlyphs">10000-100000</text>
<text class="nn" x="829.5" y="106.5" textLength="16" lengthAdjust="spacingAndGlyphs">N</text>
<text class="ax" x="58" y="726" textLength="44" lengthAdjust="spacingAndGlyphs">60.0</text>
<text class="ax" x="300.5" y="726" textLength="44" lengthAdjust="spacingAndGlyphs">70.0</text>
<text class="ax" x="543" y="726" textLength="44" lengthAdjust="spacingAndGlyphs">80.0</text>
<text class="ax" x="785" y="726" textLength="44" lengthAdjust="spacingAndGlyphs">90.0</text>
<text class="ax" transform="translate(24.5,176) rotate(-90)" textLength="44" lengthAdjust="spacingAndGlyphs">30.0</text>
<text class="ax" transform="translate(24.5,417) rotate(-90)" textLength="44" lengthAdjust="spacingAndGlyphs">20.0</text>
<text class="ax" transform="translate(24.5,658) rotate(-90)" textLength="44" lengthAdjust="spacingAndGlyphs">10.0</text>
</g>
</svg>
</body></html>
